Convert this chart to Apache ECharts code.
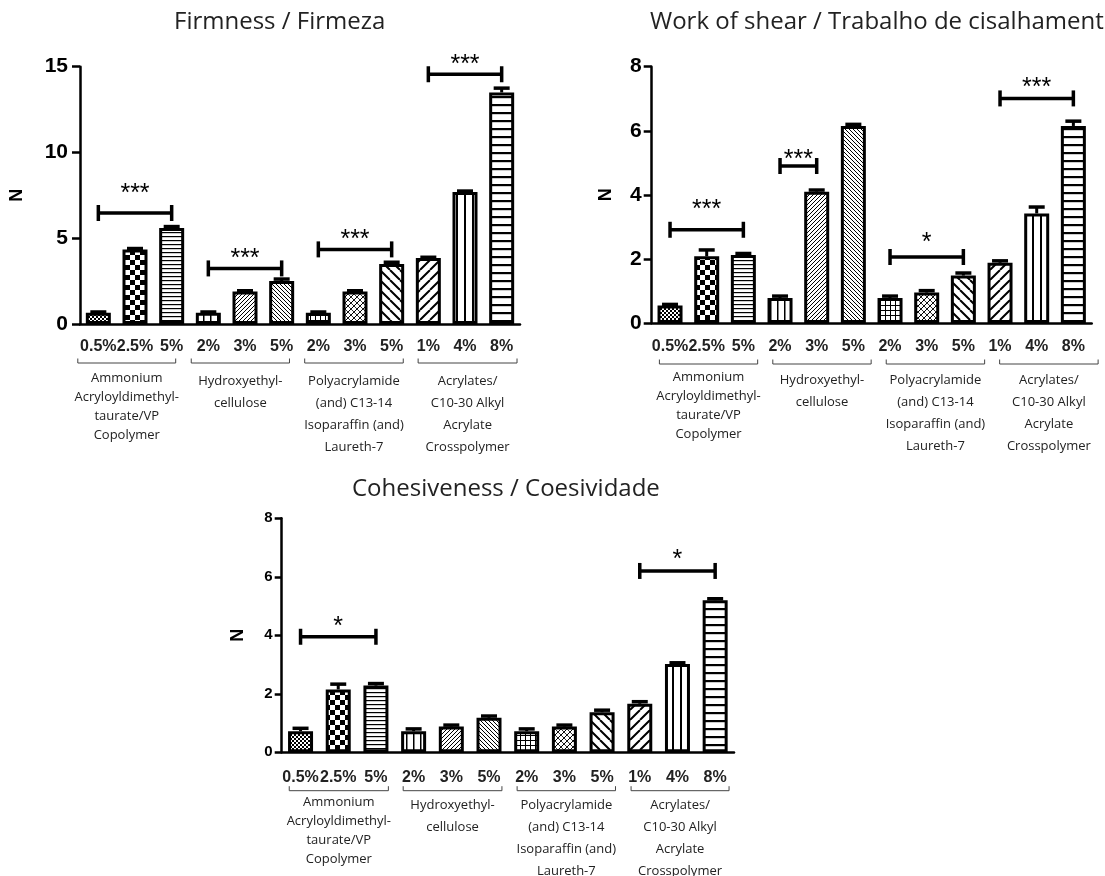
<!DOCTYPE html>
<html>
<head>
<meta charset="utf-8">
<script src="https://cdn.jsdelivr.net/npm/echarts/dist/echarts.min.js"></script>
<style>
  html, body { margin: 0; padding: 0; background: #fff; }
  #chart { width: 1105px; height: 876px; }
</style>
</head>
<body>
<div id="chart"></div>
<script>
// ---------------- DATA ----------------
const categories = ['0.5%', '2.5%', '5%', '2%', '3%', '5%', '2%', '3%', '5%', '1%', '4%', '8%'];
const groupNames = [
  'Ammonium\nAcryloyldimethyl-\ntaurate/VP\nCopolymer',
  'Hydroxyethyl-\ncellulose',
  'Polyacrylamide\n(and) C13-14\nIsoparaffin (and)\nLaureth-7',
  'Acrylates/\nC10-30 Alkyl\nAcrylate\nCrosspolymer'
];
const groupRanges = [[0, 2], [3, 5], [6, 8], [9, 11]];

const titles = ['Firmness / Firmeza', 'Work of shear / Trabalho de cisalhamento', 'Cohesiveness / Coesividade'];
const yAxisName = 'N';

const firmness    = [0.65, 4.35, 5.6, 0.65, 1.9, 2.5, 0.65, 1.9, 3.5, 3.85, 7.7, 13.5];
const firmnessErr = [0.05, 0.05, 0.08, 0.05, 0.04, 0.12, 0.05, 0.04, 0.1, 0.04, 0.05, 0.25];
// [firstIndex, lastIndex, bracket value, star value, label]
const firmnessSig = [[0, 2, 6.47, 7.9, '***'], [3, 5, 3.24, 4.1, '***'], [6, 8, 4.35, 5.2, '***'], [9, 11, 14.56, 15.4, '***']];

const workOfShear    = [0.55, 2.08, 2.12, 0.78, 4.1, 6.15, 0.78, 0.95, 1.48, 1.88, 3.42, 6.15];
const workOfShearErr = [0.03, 0.2, 0.05, 0.06, 0.05, 0.05, 0.06, 0.06, 0.08, 0.06, 0.2, 0.15];
const workOfShearSig = [[0, 2, 2.91, 3.7, '***'], [3, 4, 4.9, 5.25, '***'], [6, 8, 2.06, 2.65, '*'], [9, 11, 7.01, 7.5, '***']];

const cohesiveness    = [0.72, 2.15, 2.28, 0.72, 0.88, 1.18, 0.72, 0.88, 1.37, 1.66, 3.02, 5.2];
const cohesivenessErr = [0.1, 0.18, 0.07, 0.08, 0.05, 0.06, 0.08, 0.05, 0.07, 0.07, 0.04, 0.05];
const cohesivenessSig = [[0, 2, 3.95, 4.47, '*'], [9, 11, 6.2, 6.75, '*']];

const firmnessAxis = { max: 15, interval: 5 };
const shearAxis = { max: 8, interval: 2 };
const cohesivenessAxis = { max: 8, interval: 2 };

// ---------------- PATTERNS ----------------
function tile(w, h, draw) {
  const c = document.createElement('canvas');
  c.width = w; c.height = h;
  const ctx = c.getContext('2d');
  ctx.fillStyle = '#fff'; ctx.fillRect(0, 0, w, h);
  ctx.fillStyle = '#000'; ctx.strokeStyle = '#000';
  draw(ctx, w, h);
  return { image: c, repeat: 'repeat' };
}
function diag(ctx, s, lw, up) {
  ctx.lineWidth = lw;
  ctx.beginPath();
  for (let k = -s; k <= s; k += s) {
    if (up) { ctx.moveTo(k, s); ctx.lineTo(k + s, 0); }
    else { ctx.moveTo(k, 0); ctx.lineTo(k + s, s); }
  }
  ctx.stroke();
}
const patterns = [
  tile(4, 4, (c) => { c.fillRect(0, 0, 2, 2); c.fillRect(2, 2, 2, 2); }),            // fine checker
  tile(10, 10, (c) => { c.fillRect(0, 0, 5, 5); c.fillRect(5, 5, 5, 5); }),          // checkerboard
  tile(4, 4, (c) => { c.fillRect(0, 0, 4, 1.2); }),                                  // thin horizontal
  tile(7, 4, (c) => { c.fillRect(0, 0, 1.5, 4); }),                                  // vertical lines
  tile(4, 4, (c) => diag(c, 4, 1, true)),                                            // fine /
  tile(4, 4, (c) => diag(c, 4, 1, false)),                                           // fine \
  tile(5, 5, (c) => { c.fillRect(0, 0, 5, 1); c.fillRect(0, 0, 1, 5); }),            // grid
  tile(6, 6, (c) => { diag(c, 6, 1, true); diag(c, 6, 0.8, false); }),               // cross hatch
  tile(10, 10, (c) => diag(c, 10, 2, false)),                                        // wide \
  tile(10, 10, (c) => diag(c, 10, 2, true)),                                         // wide /
  tile(8, 4, (c) => { c.fillRect(0, 0, 2, 4); }),                                    // wide vertical
  tile(4, 8, (c) => { c.fillRect(0, 0, 4, 2.2); })                                   // thick horizontal
];

// ---------------- LAYOUT ----------------
const panels = [
  { title: titles[0], values: firmness, errors: firmnessErr, sig: firmnessSig, axis: firmnessAxis,
    grid: { left: 80, top: 66.7, width: 440, height: 257.3 },
    titlePos: { left: 169, top: 5 }, nameGap: 54, yFont: 21, yMargin: 12, yTick: 8, xMargin: 14.5,
    bracket: { s0: -0.56, sd: 0.094, e0: 0.11, ed: 0.103 }, bracketDy: 39, labelDy: 46 },
  { title: titles[1], values: workOfShear, errors: workOfShearErr, sig: workOfShearSig, axis: shearAxis,
    grid: { left: 651.7, top: 66.7, width: 440, height: 256.3 },
    titlePos: { left: 645, top: 5 }, nameGap: 37, yFont: 21, yMargin: 10, yTick: 8, xMargin: 16,
    bracket: { s0: -0.29, sd: 0.093, e0: 0.39, ed: 0.095 }, bracketDy: 41, labelDy: 46 },
  { title: titles[2], values: cohesiveness, errors: cohesivenessErr, sig: cohesivenessSig, axis: cohesivenessAxis,
    grid: { left: 281.7, top: 518.3, width: 452.3, height: 234 },
    titlePos: { left: 347, top: 472 }, nameGap: 35, yFont: 15, yMargin: 9, yTick: 7, xMargin: 17,
    bracket: { s0: -0.30, sd: 0.023, e0: 0.33, ed: 0.013 }, bracketDy: 38.4, labelDy: 42 }
];

const option = {
  animation: false,
  backgroundColor: '#fff',
  title: [], grid: [], xAxis: [], yAxis: [], series: []
};

panels.forEach((p, i) => {
  option.title.push({
    text: p.title, left: p.titlePos.left, top: p.titlePos.top,
    textStyle: { fontFamily: 'Open Sans', fontSize: 24, fontWeight: 'normal', color: '#222' }
  });
  option.grid.push(Object.assign({ containLabel: false }, p.grid));
  option.xAxis.push({
    type: 'category', gridIndex: i, data: categories,
    axisLine: { lineStyle: { color: '#000', width: 2.5 } },
    axisTick: { alignWithLabel: true, length: 8, lineStyle: { color: '#000', width: 2.5 } },
    axisLabel: { interval: 0, margin: p.xMargin, color: '#222', fontFamily: 'Liberation Sans', fontWeight: 'bold', fontSize: 16 }
  });
  option.yAxis.push({
    type: 'value', gridIndex: i, min: 0, max: p.axis.max, interval: p.axis.interval,
    name: yAxisName, nameLocation: 'middle', nameGap: p.nameGap,
    nameTextStyle: { fontFamily: 'Liberation Sans', fontWeight: 'bold', fontSize: 18, color: '#000' },
    axisLine: { show: true, lineStyle: { color: '#000', width: 2.5 } },
    axisTick: { show: true, length: p.yTick, lineStyle: { color: '#000', width: 2.5 } },
    axisLabel: { margin: p.yMargin, color: '#000', fontFamily: 'Liberation Sans', fontWeight: 'bold', fontSize: p.yFont },
    splitLine: { show: false }
  });
  // bars
  option.series.push({
    type: 'bar', xAxisIndex: i, yAxisIndex: i, barWidth: 25,
    data: p.values.map((v, k) => ({ value: v, itemStyle: { color: patterns[k] } })),
    itemStyle: { borderColor: '#000', borderWidth: 3 }
  });
  // error bars
  option.series.push({
    type: 'custom', xAxisIndex: i, yAxisIndex: i, clip: false, z: 5,
    data: p.values.map((v, k) => [k, v, p.errors[k]]),
    renderItem: (params, api) => {
      const x = api.value(0), v = api.value(1), e = api.value(2);
      const p0 = api.coord([x, v]), p1 = api.coord([x, v + e]);
      const hw = 8;
      return { type: 'group', children: [
        { type: 'line', shape: { x1: p0[0], y1: p0[1], x2: p1[0], y2: p1[1] }, style: { stroke: '#000', lineWidth: 3 } },
        { type: 'line', shape: { x1: p1[0] - hw, y1: p1[1], x2: p1[0] + hw, y2: p1[1] }, style: { stroke: '#000', lineWidth: 3.5 } }
      ] };
    }
  });
  // significance brackets
  const sig = p.sig;
  option.series.push({
    type: 'custom', xAxisIndex: i, yAxisIndex: i, clip: false, z: 6,
    data: sig.map(s => [s[0], s[1], s[2], s[3]]),
    renderItem: (params, api) => {
      const a = api.coord([api.value(0), api.value(2)]);
      const b = api.coord([api.value(1), api.value(2)]);
      const st = api.coord([(api.value(0) + api.value(1)) / 2, api.value(3)]);
      const midX = (a[0] + b[0]) / 2;
      const h = 8, fs = 25;
      return { type: 'group', children: [
        { type: 'line', shape: { x1: a[0], y1: a[1], x2: b[0], y2: b[1] }, style: { stroke: '#000', lineWidth: 3.5 } },
        { type: 'line', shape: { x1: a[0], y1: a[1] - h, x2: a[0], y2: a[1] + h }, style: { stroke: '#000', lineWidth: 3.5 } },
        { type: 'line', shape: { x1: b[0], y1: b[1] - h, x2: b[0], y2: b[1] + h }, style: { stroke: '#000', lineWidth: 3.5 } },
        { type: 'text', x: midX, y: st[1] + 0.22 * fs, style: {
          text: sig[params.dataIndex][4], fill: '#000', fontFamily: 'Liberation Sans', fontSize: fs,
          align: 'center', verticalAlign: 'middle' } }
      ] };
    }
  });
  // group brackets and names under the axis
  const br = p.bracket;
  option.series.push({
    type: 'custom', xAxisIndex: i, yAxisIndex: i, clip: false, z: 6,
    data: groupRanges.map((g, gi) => [g[0], g[1], gi]),
    renderItem: (params, api) => {
      const f = api.value(0), l = api.value(1), gi = api.value(2);
      const pf = api.coord([f, 0]), pl = api.coord([l, 0]);
      const band = (pl[0] - pf[0]) / (l - f);
      const x1 = pf[0] + (br.s0 + br.sd * gi) * band;
      const x2 = pl[0] + (br.e0 + br.ed * gi) * band;
      const y = pf[1] + p.bracketDy;
      const lh = gi === 0 ? 19 : 22;
      return { type: 'group', children: [
        { type: 'polyline', shape: { points: [[x1, y - 4.5], [x1, y], [x2, y], [x2, y - 4.5]] },
          style: { stroke: '#444', lineWidth: 1, fill: null } },
        { type: 'text', x: (x1 + x2) / 2, y: pf[1] + p.labelDy + (lh - 22) / 2, style: {
          text: groupNames[gi], fill: '#222', fontFamily: 'Open Sans', fontSize: 13,
          lineHeight: lh, align: 'center', verticalAlign: 'top' } }
      ] };
    }
  });
});

const chart = echarts.init(document.getElementById('chart'), null, { renderer: 'canvas' });
chart.setOption(option);
</script>
</body>
</html>
